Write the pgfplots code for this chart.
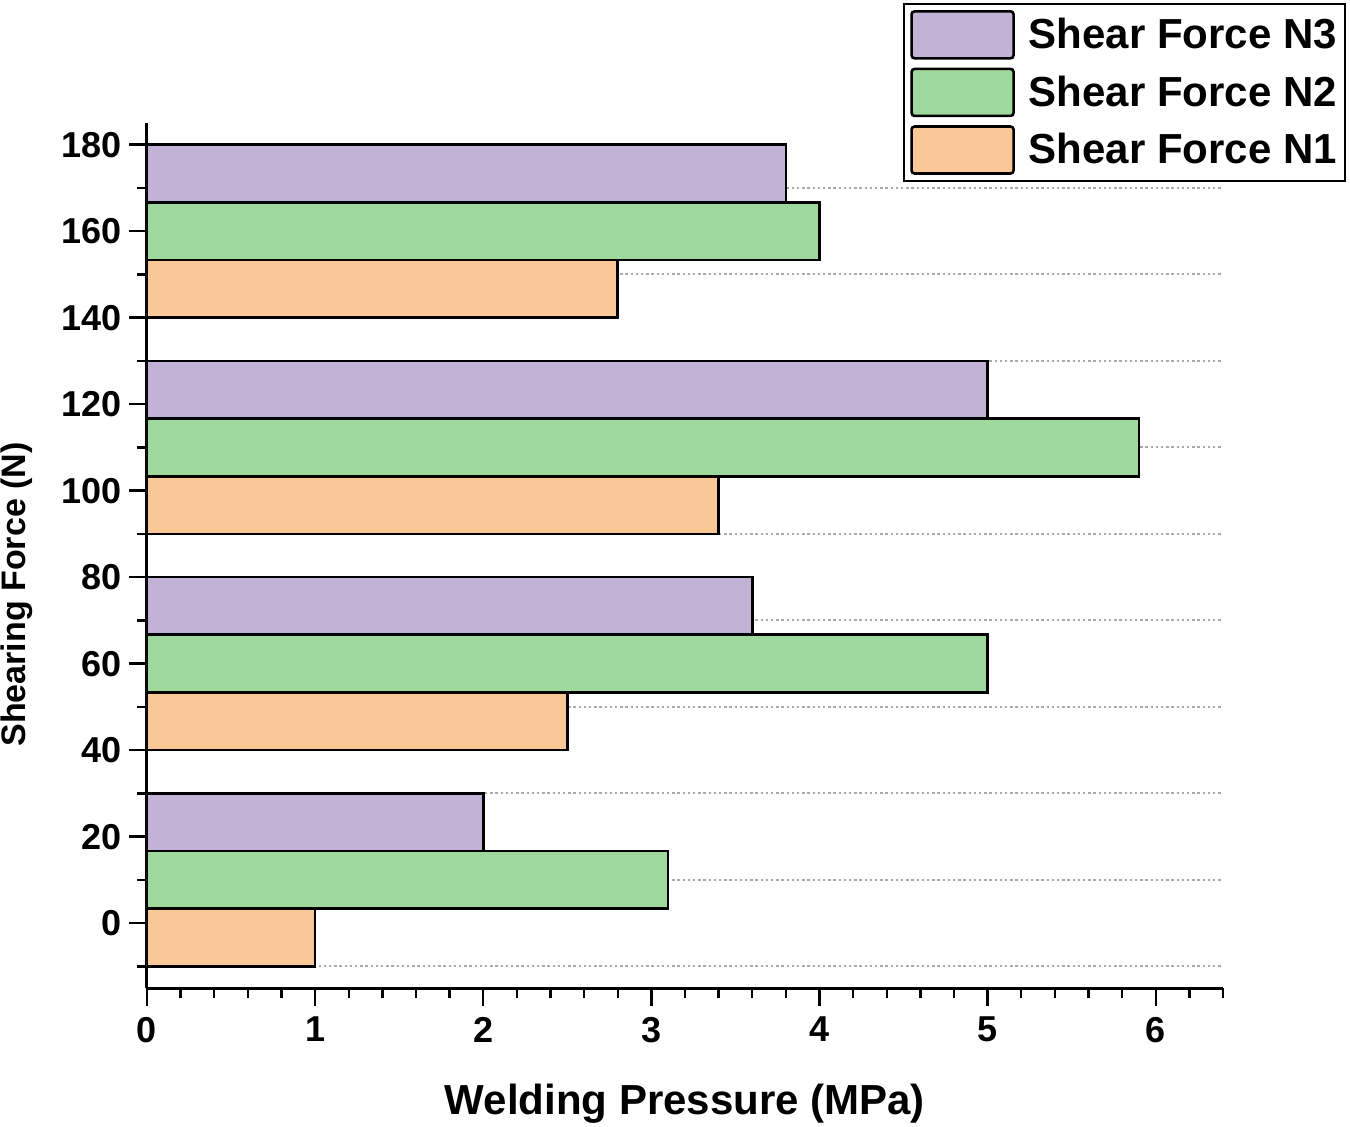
\documentclass[border=0pt]{standalone}
\usepackage{fontspec}
\setmainfont{Liberation Sans}
\usepackage{pgfplots}
\pgfplotsset{compat=1.18}
\definecolor{cN3}{RGB}{194,178,214}
\definecolor{cN2}{RGB}{158,216,156}
\definecolor{cN1}{RGB}{250,200,150}
\definecolor{gridgray}{RGB}{170,170,170}
\pgfplotsset{
  mybar/.style={xbar, bar shift=0pt, bar width=13.3333, draw=black, line width=1.3pt,
    legend image code/.code={\draw[##1, rounded corners=1.5pt] (0pt,-11.75pt) rectangle (51pt,11.75pt);}},
}
\begin{document}
\begin{tikzpicture}
\useasboundingbox (-73.5pt,-69pt) rectangle (601.5pt,494pt);
\begin{axis}[
  scale only axis,
  width=538pt, height=432.5pt,
  xmin=0, xmax=6.4, ymin=-15, ymax=185,
  axis lines*=left,
  axis line style={line width=1.5pt, black},
  tick align=outside,
  major tick length=9pt, minor tick length=5pt,
  tick style={black, line width=1.2pt},
  xtick={0,1,2,3,4,5,6},
  minor xtick={0.2,0.4,0.6,0.8,1.2,1.4,1.6,1.8,2.2,2.4,2.6,2.8,3.2,3.4,3.6,3.8,4.2,4.4,4.6,4.8,5.2,5.4,5.6,5.8,6.2,6.4},
  ytick={0,20,40,60,80,100,120,140,160,180},
  minor ytick={-10,10,30,50,70,90,110,130,150,170},
  yminorgrids=true,
  minor grid style={gridgray, line width=1pt, dash pattern=on 1.2pt off 1.4pt},
  tick label style={font=\fontsize{18}{21}\selectfont\bfseries},
  xticklabel style={yshift=-2pt},
  /pgf/number format/assume math mode=true,
  xlabel={Welding Pressure (MPa)},
  ylabel={Shearing Force (N)},
  xlabel style={at={(axis description cs:0.5,-0.1457)}, anchor=base, font=\fontsize{21}{25}\selectfont\bfseries},
  ylabel style={at={(axis description cs:-0.1125,0.455)}, anchor=base, font=\fontsize{17}{20}\selectfont\bfseries},
  legend cell align=left,
  legend style={at={(1.1143,1.1387)}, anchor=north east, draw=black, line width=1pt,
    inner xsep=3pt, inner ysep=3pt, row sep=4pt, /tikz/column sep=6pt,
    nodes={inner sep=1pt}, font=\fontsize{21}{25}\selectfont\bfseries},
]
\addplot[mybar, fill=cN3] coordinates {(2.0,23.3333) (3.6,73.3333) (5.0,123.3333) (3.8,173.3333)};
\addlegendentry{Shear Force N3}
\addplot[mybar, fill=cN2] coordinates {(3.1,10) (5.0,60) (5.9,110) (4.0,160)};
\addlegendentry{Shear Force N2}
\addplot[mybar, fill=cN1] coordinates {(1.0,-3.3333) (2.5,46.6667) (3.4,96.6667) (2.8,146.6667)};
\addlegendentry{Shear Force N1}
\end{axis}
\end{tikzpicture}
\end{document}
